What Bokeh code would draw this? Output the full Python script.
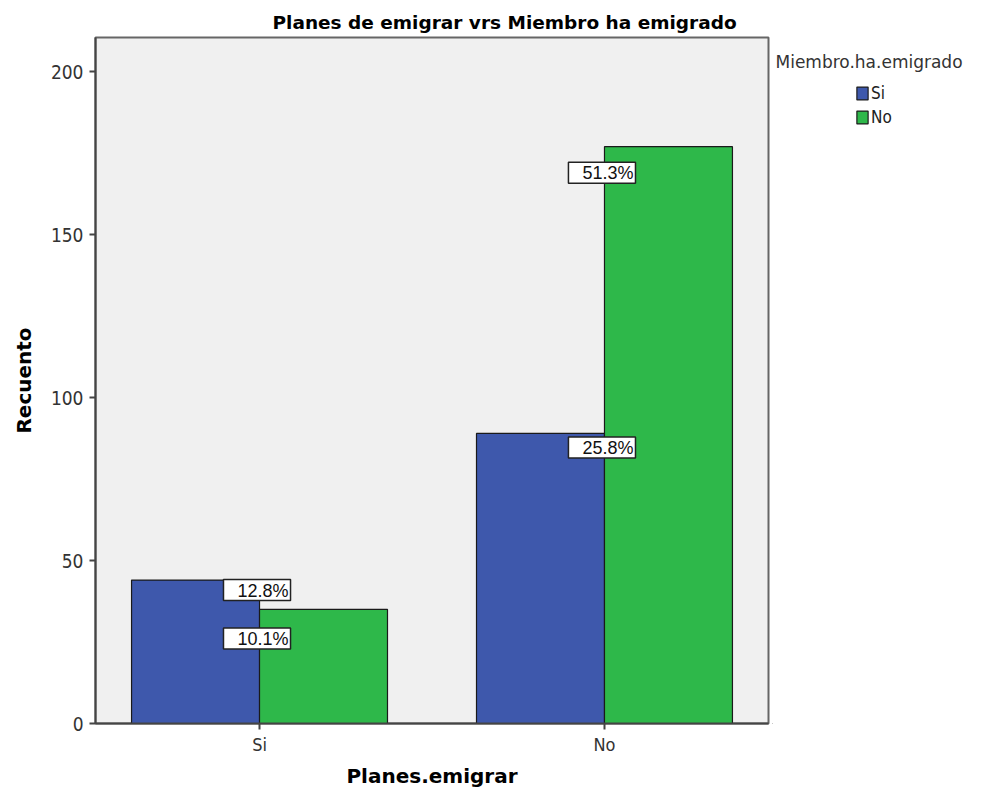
from bokeh.plotting import figure
from bokeh.layouts import row
from bokeh.models import (ColumnDataSource, FactorRange, Range1d, FixedTicker,
                          Legend, LegendItem, Label)
from bokeh.core.properties import value
from bokeh.transform import dodge
from bokeh.embed import file_html
from bokeh.resources import INLINE

# ---- data ----
categories = ["Si", "No"]                 # Planes.emigrar
series_names = ["Si", "No"]               # Miembro.ha.emigrado
counts_miembro_si = [44, 89]
counts_miembro_no = [35, 177]
y_ticks = [0, 50, 100, 150, 200]
title_text = "Planes de emigrar vrs Miembro ha emigrado"
x_label = "Planes.emigrar"
y_label = "Recuento"
legend_title = "Miembro.ha.emigrado"

# ---- styles ----
colors = ["#3E58AC", "#2EB84A"]
label_drop_si = [10, 14]     # px below bar top for the percent box (series Si)
label_drop_no = [29, 26]     # px below bar top (series No)
narrow = "Liberation Sans Narrow, DejaVu Sans Condensed, Liberation Sans"
H = 790

total = sum(counts_miembro_si) + sum(counts_miembro_no)
pct_si = ["%.1f%%" % (100.0 * v / total) for v in counts_miembro_si]
pct_no = ["%.1f%%" % (100.0 * v / total) for v in counts_miembro_no]

src_si = ColumnDataSource(dict(cat=categories, val=counts_miembro_si, lbl=pct_si,
                               off=label_drop_si))
src_no = ColumnDataSource(dict(cat=categories, val=counts_miembro_no, lbl=pct_no,
                               off=label_drop_no))

p = figure(width=772, height=H, output_backend="svg", toolbar_location=None,
           x_range=FactorRange(factors=categories, range_padding=-0.0245),
           y_range=Range1d(0, 210.5),
           min_border_left=95, min_border_right=4, min_border_top=37,
           min_border_bottom=60)

p.border_fill_color = "white"
p.background_fill_color = "#F0F0F0"
p.outline_line_color = "#666666"
p.outline_line_width = 2

# title
p.title.text = title_text
p.title.align = "left"
p.title.offset = 177
p.title.standoff = 10
p.title.text_font = "DejaVu Sans"
p.title.text_font_style = "bold"
p.title.text_font_size = "18.5px"
p.title.text_color = "#000000"

bar_w = 0.371
r_si = p.vbar(x=dodge("cat", -bar_w / 2, range=p.x_range), top="val", width=bar_w,
              source=src_si, fill_color=colors[0], line_color="#1a1a1a", line_width=1.2)
r_no = p.vbar(x=dodge("cat", bar_w / 2, range=p.x_range), top="val", width=bar_w,
              source=src_no, fill_color=colors[1], line_color="#1a1a1a", line_width=1.2)

for src in (src_si, src_no):
    p.text(x="cat", y="val", text="lbl", source=src, x_offset=31, y_offset="off",
           text_align="right", text_baseline="middle",
           text_font=value("Liberation Sans"), text_font_size="18px", text_color="#111111",
           background_fill_color="white", border_line_color="#222222",
           border_line_width=1.5, padding=dict(left=14, right=2, top=1, bottom=0))

p.xgrid.visible = False
p.ygrid.visible = False

# y axis
p.yaxis.ticker = FixedTicker(ticks=y_ticks)
p.yaxis.minor_tick_line_color = None
p.yaxis.major_tick_in = 0
p.yaxis.major_tick_out = 6
p.yaxis.major_tick_line_width = 2
p.yaxis.axis_line_width = 2
p.yaxis.axis_line_color = "#444444"
p.yaxis.major_tick_line_color = "#444444"
p.yaxis.major_label_text_font = narrow
p.yaxis.major_label_text_font_size = "19px"
p.yaxis.major_label_text_color = "#333333"
p.yaxis.major_label_standoff = 6
p.yaxis.axis_label = y_label
p.yaxis.axis_label_text_font = "DejaVu Sans"
p.yaxis.axis_label_text_font_style = "bold"
p.yaxis.axis_label_text_font_size = "20px"
p.yaxis.axis_label_text_color = "#000000"
p.yaxis.axis_label_standoff = 12

# x axis
p.xaxis.major_tick_in = 0
p.xaxis.major_tick_out = 6
p.xaxis.major_tick_line_width = 2
p.xaxis.axis_line_width = 2
p.xaxis.axis_line_color = "#444444"
p.xaxis.major_tick_line_color = "#444444"
p.xaxis.major_label_text_font = narrow
p.xaxis.major_label_text_font_size = "18px"
p.xaxis.major_label_text_color = "#333333"
p.xaxis.major_label_standoff = 4
p.xaxis.axis_label = x_label
p.xaxis.axis_label_text_font = "DejaVu Sans"
p.xaxis.axis_label_text_font_style = "bold"
p.xaxis.axis_label_text_font_size = "20px"
p.xaxis.axis_label_text_color = "#000000"
p.xaxis.axis_label_standoff = 6

# ---- legend panel (its frame is aligned with the chart's frame by the row) ----
q = figure(width=196, height=H, output_backend="svg", toolbar_location=None,
           title=None, x_range=Range1d(0, 1), y_range=Range1d(0, 1),
           x_axis_location=None, y_axis_location=None, min_border=0)
q.grid.visible = False
q.outline_line_color = None
q.background_fill_color = "white"
q.border_fill_color = "white"
# legend-only proxies, kept outside the visible range of this panel
proxy = ColumnDataSource(dict(x=[-10], top=[0]))
d_si = q.vbar(x="x", top="top", width=0.1, source=proxy,
              fill_color=colors[0], line_color="#1a1a1a", line_width=1.2)
d_no = q.vbar(x="x", top="top", width=0.1, source=proxy,
              fill_color=colors[1], line_color="#1a1a1a", line_width=1.2)

legend = Legend(items=[LegendItem(label=series_names[0], renderers=[d_si]),
                       LegendItem(label=series_names[1], renderers=[d_no])],
                location=(83, 596), glyph_width=14, glyph_height=16,
                label_standoff=2, spacing=4, padding=0, margin=0,
                label_text_font=narrow, label_text_font_size="17px",
                label_text_color="#222222", label_height=20,
                border_line_color=None, background_fill_alpha=0)
q.add_layout(legend, "center")

q.add_layout(Label(x=3, y=662, x_units="screen", y_units="screen",
                   text=legend_title, text_baseline="middle",
                   text_font="DejaVu Sans", text_font_size="17px",
                   text_color="#333333"))

layout = row(p, q)
open("out.html", "w").write(file_html(layout, INLINE))
